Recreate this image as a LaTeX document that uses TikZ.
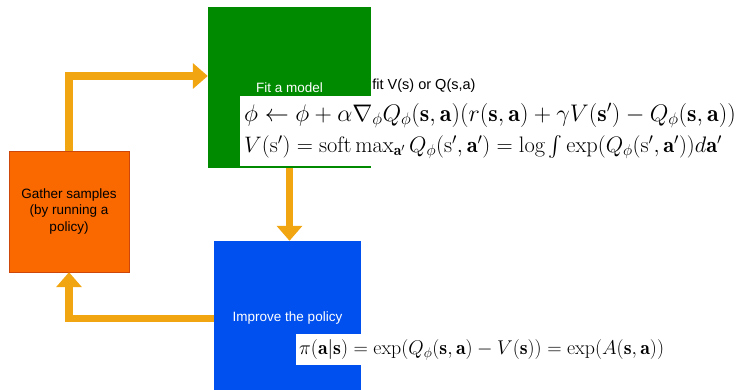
\RequirePackage{fix-cm}
\documentclass[tikz,border=0pt]{standalone}
\usepackage{amsmath}
\usepackage{fontspec}
\newfontfamily\arialfont{Liberation Sans}
\usetikzlibrary{arrows.meta, positioning}
\definecolor{modelgreen}{RGB}{0,138,0}
\definecolor{gatherorange}{RGB}{250,104,0}
\definecolor{gatherline}{RGB}{205,70,10}
\definecolor{policyblue}{RGB}{0,80,239}
\definecolor{loopamber}{RGB}{241,165,16}
\newcommand{\bs}{\mathbf{s}}
\newcommand{\ba}{\mathbf{a}}

\begin{document}
\begin{tikzpicture}[x=1pt, y=-1pt,
  stage/.style={inner sep=0pt, align=center, text=white,
    font=\arialfont\fontsize{13.5}{16.5}\selectfont},
  loop/.style={draw=loopamber, line width=7.5pt,
    -{Triangle[width=25pt, length=15pt]}},
  eqbox/.style={fill=white, inner xsep=4pt, inner ysep=7pt, align=left}]
  \useasboundingbox (0,0) rectangle (738,390);

  \node[stage, fill=gatherorange, draw=gatherline, text=black,
        minimum width=120pt, minimum height=121pt]
    (gather) at (69,211.5) {Gather samples\\(by running a\\policy)};
  \node[stage, fill=modelgreen, minimum width=163pt, minimum height=161pt]
    (model) at (289.5,87.5) {Fit a model};
  \node[stage, fill=policyblue, minimum width=147pt, minimum height=155pt]
    (policy) at (287.5,318.5) {Improve the policy};

  \node[anchor=west, inner sep=1pt, font=\arialfont\fontsize{14.5}{17}\selectfont]
    (fitnote) at ([yshift=1.5pt]model.east) {fit V(s) or Q(s,a)};

  \node[eqbox, anchor=north west, text width=490pt, font=\fontsize{24}{31}\selectfont]
    (fiteq) at (240,96)
    {\mbox{$\phi \leftarrow \phi + \alpha \nabla_{\phi} Q_{\phi}(\bs,\ba)
      (r(\bs,\ba) + \gamma V(\bs') - Q_{\phi}(\bs,\ba))$}\\
     {\fontsize{22.4}{31}\selectfont
     \mbox{$V(\mathrm{s}') = \mathrm{soft\,max}_{\ba'}\, Q_{\phi}(\mathrm{s}',\ba')
      = \log \int \exp(Q_{\phi}(\mathrm{s}',\ba'))d\ba'$}}};
  \node[eqbox, anchor=north west, inner xsep=3pt, inner ysep=5pt, text width=370pt,
        font=\fontsize{19.9}{24}\selectfont]
    (policyeq) at (296,334)
    {\mbox{$\pi(\ba|\bs) = \exp(Q_{\phi}(\bs,\ba) - V(\bs)) = \exp(A(\bs,\ba))$}};

  \draw[loop] (gather.north) |- ([yshift=11.5pt]model.west);
  \draw[loop] (model.south) -- (model.south |- policy.north);
  \draw[loop] (policy.west) -| (gather.south);
\end{tikzpicture}
\end{document}
